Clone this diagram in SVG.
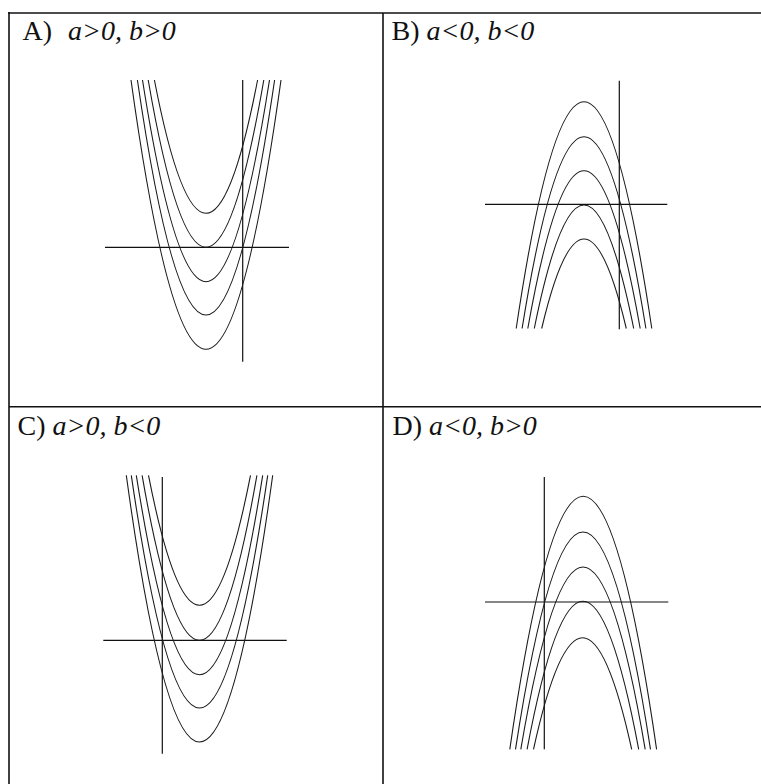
<svg xmlns="http://www.w3.org/2000/svg" width="761" height="784" viewBox="0 0 761 784">
<style>
.frame{stroke:#111;stroke-width:1.6;fill:none}
.axis{stroke:#111;stroke-width:1.2;fill:none}
.curve{stroke:#1a1a1a;stroke-width:1.1;fill:none}
.lbl{font-family:"Liberation Serif","Times New Roman",serif;font-size:28px;fill:#111}
.it{font-style:italic}
</style>
<rect width="761" height="784" fill="#fff"/>
<g id="frame">
<line class="frame" x1="8" y1="13" x2="761" y2="13"/>
<line class="frame" x1="9" y1="12" x2="9" y2="784"/>
<line class="frame" x1="383" y1="13" x2="383" y2="784"/>
<line class="frame" x1="9" y1="406.7" x2="761" y2="406.7"/>
</g>
<g id="panelA">
<text class="lbl" x="22.5" y="39.5">A)<tspan class="it" x="68">a&gt;0, b&gt;0</tspan></text>
<line class="axis" x1="105" y1="247.3" x2="289" y2="247.3"/>
<line class="axis" x1="242.7" y1="80" x2="242.7" y2="361.7"/>
<path class="curve" d="M154.4,80 Q206,346.6 257.6,80"/>
<path class="curve" d="M148.2,80 Q206,414.6 263.8,80"/>
<path class="curve" d="M142.5,80 Q206,483.4 269.5,80"/>
<path class="curve" d="M137.4,80 Q206,550 274.6,80"/>
<path class="curve" d="M131,80 Q206,618.6 281,80"/>
</g>
<g id="panelB">
<text class="lbl" x="391.5" y="39.5">B) <tspan class="it">a&lt;0, b&lt;0</tspan></text>
<line class="axis" x1="485" y1="204.3" x2="667.3" y2="204.3"/>
<line class="axis" x1="619.3" y1="80.7" x2="619.3" y2="329.3"/>
<path class="curve" d="M516.2,328.5 Q584,-125.1 651.8,328.5"/>
<path class="curve" d="M522.1,328.5 Q584,-55.1 645.9,328.5"/>
<path class="curve" d="M527.8,328.5 Q584,12.9 640.2,328.5"/>
<path class="curve" d="M534.3,328.5 Q584,81.5 633.7,328.5"/>
<path class="curve" d="M541.7,328.5 Q584,149.5 626.3,328.5"/>
</g>
<g id="panelC">
<text class="lbl" x="17.5" y="435">C) <tspan class="it">a&gt;0, b&lt;0</tspan></text>
<line class="axis" x1="103.3" y1="640.3" x2="286.7" y2="640.3"/>
<line class="axis" x1="162.3" y1="477" x2="162.3" y2="753.7"/>
<path class="curve" d="M148.5,475.3 Q199.5,735.3 250.5,475.3"/>
<path class="curve" d="M142.1,475.3 Q199.5,805.3 256.9,475.3"/>
<path class="curve" d="M136.3,475.3 Q199.5,874.1 262.7,475.3"/>
<path class="curve" d="M131.3,475.3 Q199.5,940.7 267.7,475.3"/>
<path class="curve" d="M126.3,475.3 Q199.5,1008.7 272.7,475.3"/>
</g>
<g id="panelD">
<text class="lbl" x="392.5" y="435">D) <tspan class="it">a&lt;0, b&gt;0</tspan></text>
<line class="axis" x1="485" y1="602" x2="668.3" y2="602"/>
<line class="axis" x1="544.3" y1="477" x2="544.3" y2="749.3"/>
<path class="curve" d="M509.8,749.3 Q583.2,243.3 656.6,749.3"/>
<path class="curve" d="M515.5,749.3 Q583,314.7 650.5,749.3"/>
<path class="curve" d="M520.8,749.3 Q583,384.7 645.2,749.3"/>
<path class="curve" d="M527.1,749.3 Q582.9,453.3 638.7,749.3"/>
<path class="curve" d="M533.5,749.3 Q582.6,526.1 631.7,749.3"/>
</g>
</svg>
